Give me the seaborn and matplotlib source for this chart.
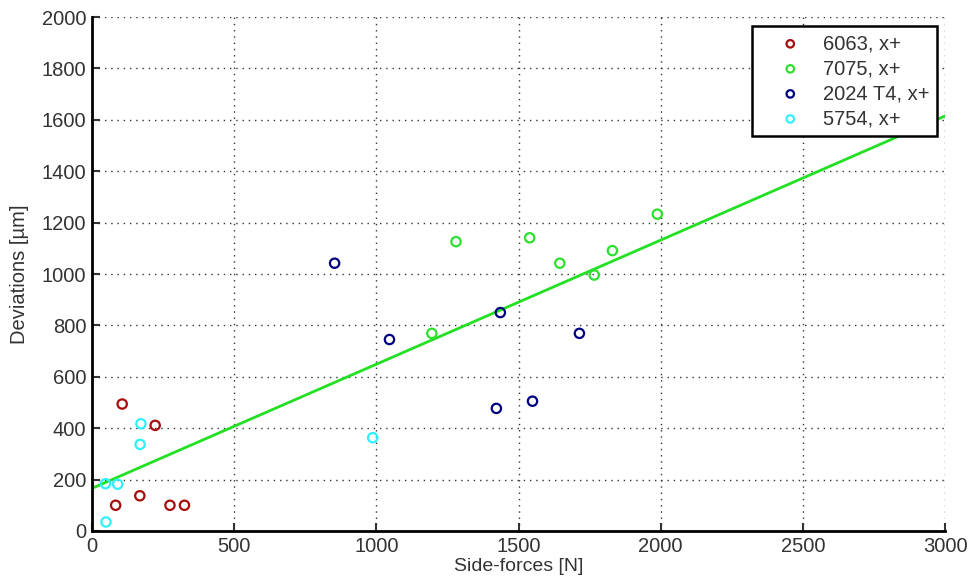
import matplotlib
matplotlib.use("Agg")
import matplotlib.pyplot as plt
import seaborn as sns
import pandas as pd

# -----------------------------
# Data
# -----------------------------

x_6063 = [83, 106, 168, 222, 274, 325]
y_6063 = [100, 494, 137, 411, 100, 100]

x_7075 = [1195, 1280, 1539, 1645, 1766, 1830, 1988]
y_7075 = [769, 1126, 1141, 1042, 996, 1091, 1233]

x_2024 = [853, 1046, 1436, 1714, 1422, 1549]
y_2024 = [1042, 745, 850, 769, 477, 505]

x_5754 = [47, 90, 49, 172, 169, 987]
y_5754 = [184, 182, 35, 417, 337, 363]

fit_x = [0, 3000]
fit_y = [166, 1615]

series = [
    ("6063, x+", x_6063, y_6063, "#a80c0c"),
    ("7075, x+", x_7075, y_7075, "#2ee02e"),
    ("2024 T4, x+", x_2024, y_2024, "#000080"),
    ("5754, x+", x_5754, y_5754, "#30f0ff"),
]

# -----------------------------
# Plot
# -----------------------------

sns.set_style("white")
plt.rcParams["font.family"] = ["Liberation Sans", "DejaVu Sans"]

fig = plt.figure(figsize=(9.72, 5.88), dpi=100)
ax = fig.add_axes([0.0947, 0.097, 0.8776, 0.874])

for label, xs, ys, color in series:
    df = pd.DataFrame({"x": xs, "y": ys})
    sns.scatterplot(
        data=df, x="x", y="y", ax=ax,
        marker="o", s=45, facecolor="none",
        edgecolor=color, linewidth=1.6, label=label, zorder=3
    )

# linear fit line
fit = pd.DataFrame({"x": fit_x, "y": fit_y})
sns.lineplot(data=fit, x="x", y="y", ax=ax, color="#22e022", linewidth=2, zorder=2)

ax.set_xlim(0, 3000)
ax.set_ylim(0, 2000)
ax.set_xticks(range(0, 3001, 500))
ax.set_yticks(range(0, 2001, 200))

ax.grid(True, linestyle=(0, (1, 3.5)), color="#333333", linewidth=1)
ax.set_axisbelow(True)

for side in ["top", "right"]:
    ax.spines[side].set_visible(False)
for side in ["left", "bottom"]:
    ax.spines[side].set_linewidth(2)
    ax.spines[side].set_color("black")

ax.tick_params(direction="in", length=6, width=1.5, labelsize=14.5,
               colors="#333333", left=True, bottom=True, pad=4)
for t in ax.get_xticklabels() + ax.get_yticklabels():
    t.set_color("#333333")

ax.set_xlabel("Side-forces [N]", fontsize=14, color="#333333", labelpad=2)
ax.set_ylabel("Deviations [µm]", fontsize=14.5, color="#333333", labelpad=9)

leg = ax.legend(loc="upper right", bbox_to_anchor=(0.9906, 0.9825), borderaxespad=0,
                fontsize=14.5, frameon=True, fancybox=False, markerscale=0.8,
                handletextpad=0.1, borderpad=0.4, labelspacing=0.3,
                handlelength=3)
leg.get_frame().set_edgecolor("black")
leg.get_frame().set_linewidth(1.8)
leg.get_frame().set_alpha(1)
for t in leg.get_texts():
    t.set_color("#333333")

plt.savefig("out.png", dpi=100)
